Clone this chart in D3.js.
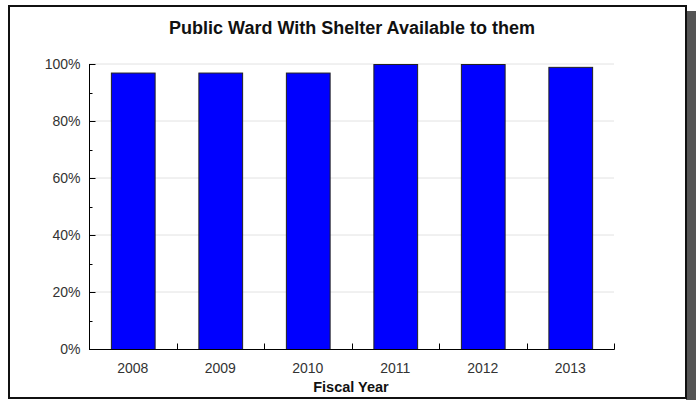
<!DOCTYPE html>
<html>
<head>
<meta charset="utf-8">
<script src="https://cdn.jsdelivr.net/npm/d3@7"></script>
<style>
  html, body { margin: 0; padding: 0; background: #fff; }
  svg { display: block; font-family: "Liberation Sans", Arial, sans-serif; }
</style>
</head>
<body>
<svg id="chart" width="696" height="400"></svg>
<script>
// Share of public wards with shelter available, by fiscal year
const years = ["2008", "2009", "2010", "2011", "2012", "2013"];
const shelterShare = [97, 97, 97, 100, 100, 99];
const yTicks = [0, 20, 40, 60, 80, 100];
const yMinorTicks = [10, 30, 50, 70, 90];

const svg = d3.select("#chart");

// Frame with a drop shadow on the right
svg.append("rect").attr("x", 686).attr("y", 11).attr("width", 10).attr("height", 389).attr("fill", "#555");
svg.append("rect").attr("x", 9).attr("y", 6).attr("width", 677).attr("height", 392)
  .attr("fill", "#fff").attr("stroke", "#111").attr("stroke-width", 2);

const plotLeft = 89, plotRight = 614, plotTop = 64, plotBottom = 349;

const x = d3.scaleBand().domain(years).range([plotLeft, plotRight]).paddingInner(0.5).paddingOuter(0.25);
const y = d3.scaleLinear().domain([0, 100]).range([plotBottom, plotTop]);

// Gridlines
svg.append("g").selectAll("line").data(yTicks.filter(d => d > 0)).join("line")
  .attr("x1", plotLeft).attr("x2", plotRight)
  .attr("y1", d => y(d)).attr("y2", d => y(d))
  .attr("stroke", "#e2e2e2").attr("stroke-width", 1);

// Bars
svg.append("g").selectAll("rect").data(years).join("rect")
  .attr("x", d => x(d) + 0.5)
  .attr("y", (d, i) => y(shelterShare[i]) + 0.5)
  .attr("width", x.bandwidth())
  .attr("height", (d, i) => y(0) - y(shelterShare[i]))
  .attr("fill", "#0000ff").attr("stroke", "#222").attr("stroke-width", 1);

// Y axis with inward ticks
const yAxis = svg.append("g").attr("transform", `translate(${plotLeft + 0.5},0)`)
  .call(d3.axisLeft(y).tickValues(yTicks).tickSize(-6).tickPadding(9).tickFormat(d => d + "%"));
yAxis.select(".domain").attr("stroke", "#000").attr("d", `M0,${plotTop}V${plotBottom + 0.5}`);
yAxis.selectAll(".tick line").attr("stroke", "#000");
yAxis.selectAll(".tick text").attr("font-size", 14).attr("fill", "#333")
  .attr("font-family", "\"Liberation Sans\", Arial, sans-serif");
yAxis.selectAll(".minor").data(yMinorTicks).join("line").attr("class", "minor")
  .attr("x1", 0).attr("x2", 3)
  .attr("y1", d => Math.round(y(d)) + 0.5).attr("y2", d => Math.round(y(d)) + 0.5)
  .attr("stroke", "#000");

// X axis with upward ticks between categories
const xAxisG = svg.append("g").attr("transform", `translate(0,${plotBottom + 0.5})`);
xAxisG.append("line").attr("x1", plotLeft).attr("x2", plotRight + 0.5).attr("stroke", "#000");
const step = x.step();
const boundaries = years.map(d => x(d) + x.bandwidth() + (step - x.bandwidth()) / 2);
xAxisG.selectAll(".sep").data(boundaries).join("line").attr("class", "sep")
  .attr("x1", d => Math.round(d) + 0.5).attr("x2", d => Math.round(d) + 0.5)
  .attr("y1", 0).attr("y2", -6).attr("stroke", "#000");
xAxisG.selectAll("text").data(years).join("text")
  .attr("x", d => x(d) + x.bandwidth() / 2)
  .attr("y", 23)
  .attr("text-anchor", "middle").attr("font-size", 14).attr("fill", "#333")
  .text(d => d);

// Axis title
svg.append("text").attr("x", 351).attr("y", 392).attr("text-anchor", "middle")
  .attr("font-size", 14.5).attr("font-weight", "bold").attr("fill", "#111")
  .text("Fiscal Year");

// Chart title
svg.append("text").attr("x", 352).attr("y", 34).attr("text-anchor", "middle")
  .attr("font-size", 18).attr("font-weight", "bold").attr("fill", "#111")
  .text("Public Ward With Shelter Available to them");
</script>
</body>
</html>
